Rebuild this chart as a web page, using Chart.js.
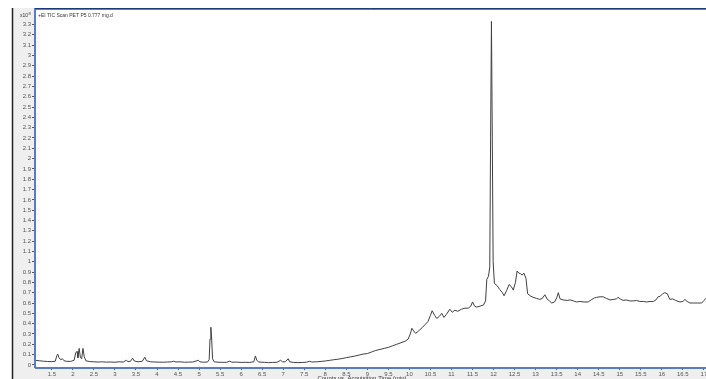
<!DOCTYPE html>
<html>
<head>
<meta charset="utf-8">
<script src="https://cdn.jsdelivr.net/npm/chart.js@4.4.1/dist/chart.umd.min.js"></script>
<style>
  html, body { margin: 0; padding: 0; background: #fff; }
  #wrap { width: 706px; height: 379px; }
</style>
</head>
<body>
<div id="wrap"><canvas id="tic" width="706" height="379"></canvas></div>
<script>
// Retention time (min) of each sampled point of the total ion chromatogram
const TIME_MIN = [
  1.1, 1.2, 1.3, 1.4, 1.5, 1.58, 1.62, 1.64, 1.67, 1.71, 1.75, 1.79, 1.85, 1.95,
  2.03, 2.07, 2.10, 2.12, 2.15, 2.18, 2.21, 2.24, 2.27, 2.31, 2.4, 2.5, 2.6, 2.7,
  2.8, 2.9, 3.0, 3.1, 3.2, 3.27, 3.31, 3.37, 3.42, 3.46, 3.55, 3.65, 3.71, 3.75,
  3.85, 3.95, 4.05, 4.15, 4.25, 4.35, 4.4, 4.45, 4.55, 4.65, 4.75, 4.85, 4.95,
  4.98, 5.02, 5.1, 5.2, 5.24, 5.26, 5.28, 5.30, 5.32, 5.36, 5.45, 5.55, 5.65,
  5.73, 5.78, 5.9, 6.0, 6.1, 6.2, 6.3, 6.34, 6.37, 6.42, 6.55, 6.65, 6.75, 6.85,
  6.94, 6.98, 7.05, 7.12, 7.15, 7.25, 7.35, 7.45, 7.55, 7.63, 7.68, 7.8, 7.9,
  8.0, 8.1, 8.2, 8.3, 8.4, 8.5, 8.6, 8.7, 8.8, 8.9, 9.0, 9.1, 9.2, 9.3, 9.4,
  9.5, 9.6, 9.7, 9.8, 9.9, 9.97, 10.02, 10.06, 10.1, 10.15, 10.22, 10.3, 10.37,
  10.44, 10.5, 10.54, 10.6, 10.65, 10.71, 10.77, 10.82, 10.88, 10.96, 11.02,
  11.08, 11.15, 11.24, 11.32, 11.4, 11.46, 11.5, 11.55, 11.6, 11.68, 11.76,
  11.81, 11.84, 11.88, 11.91, 11.93, 11.95, 11.97, 11.99, 12.02, 12.08, 12.15,
  12.21, 12.25, 12.31, 12.37, 12.42, 12.47, 12.52, 12.56, 12.6, 12.64, 12.68,
  12.72, 12.77, 12.81, 12.87, 12.94, 13.02, 13.1, 13.16, 13.22, 13.27, 13.33,
  13.38, 13.45, 13.5, 13.54, 13.58, 13.65, 13.75, 13.82, 13.9, 13.97, 14.05,
  14.15, 14.25, 14.32, 14.4, 14.45, 14.53, 14.61, 14.68, 14.77, 14.86, 14.92,
  14.96, 15.01, 15.08, 15.15, 15.24, 15.32, 15.4, 15.48, 15.56, 15.64, 15.72,
  15.8, 15.86, 15.91, 15.96, 16.02, 16.07, 16.13, 16.19, 16.26, 16.33, 16.43,
  16.5, 16.55, 16.6, 16.67, 16.75, 16.85, 16.95, 17.0, 17.05
];

// Total ion counts at each time, in units of 10^8
const TIC_E8 = [
  0.045, 0.04, 0.036, 0.033, 0.032, 0.035, 0.09, 0.105, 0.07, 0.05, 0.06, 0.04, 0.035, 0.034,
  0.045, 0.12, 0.13, 0.07, 0.16, 0.07, 0.06, 0.16, 0.08, 0.04, 0.032, 0.03, 0.028, 0.03,
  0.027, 0.028, 0.026, 0.03, 0.028, 0.045, 0.032, 0.035, 0.065, 0.038, 0.03, 0.035, 0.075, 0.04,
  0.03, 0.028, 0.027, 0.026, 0.028, 0.03, 0.036, 0.028, 0.03, 0.026, 0.027, 0.028, 0.04,
  0.046, 0.03, 0.026, 0.028, 0.05, 0.25, 0.365, 0.25, 0.06, 0.03, 0.026, 0.025, 0.025,
  0.036, 0.026, 0.027, 0.024, 0.025, 0.024, 0.03, 0.087, 0.045, 0.028, 0.025, 0.022, 0.024, 0.025,
  0.045, 0.03, 0.03, 0.06, 0.03, 0.024, 0.022, 0.024, 0.026, 0.035, 0.028, 0.03, 0.034,
  0.038, 0.044, 0.05, 0.055, 0.062, 0.07, 0.078, 0.085, 0.095, 0.105, 0.11, 0.125, 0.14, 0.15, 0.16,
  0.17, 0.185, 0.2, 0.215, 0.23, 0.25, 0.3, 0.355, 0.33, 0.305, 0.33, 0.36, 0.39,
  0.42, 0.48, 0.525, 0.48, 0.45, 0.47, 0.5, 0.46, 0.49, 0.54, 0.51,
  0.53, 0.52, 0.54, 0.55, 0.55, 0.57, 0.61, 0.57, 0.56, 0.57, 0.58,
  0.62, 0.83, 0.86, 0.95, 2.2, 3.33, 2.2, 1.0, 0.79, 0.77, 0.73,
  0.7, 0.67, 0.72, 0.78, 0.76, 0.725, 0.8, 0.91, 0.89, 0.885, 0.87,
  0.89, 0.84, 0.69, 0.67, 0.655, 0.645, 0.635, 0.645, 0.68, 0.64, 0.62,
  0.6, 0.61, 0.65, 0.70, 0.64, 0.63, 0.625, 0.63, 0.62, 0.61, 0.615,
  0.61, 0.61, 0.63, 0.65, 0.655, 0.66, 0.66, 0.645, 0.63, 0.635, 0.64,
  0.655, 0.64, 0.625, 0.63, 0.62, 0.62, 0.625, 0.615, 0.615, 0.61, 0.615,
  0.615, 0.63, 0.66, 0.665, 0.69, 0.70, 0.69, 0.635, 0.64, 0.625, 0.61,
  0.615, 0.635, 0.615, 0.6, 0.6, 0.6, 0.6, 0.625, 0.645
];

// Axis tick values
const X_TICKS = [1.5, 2, 2.5, 3, 3.5, 4, 4.5, 5, 5.5, 6, 6.5, 7, 7.5, 8, 8.5, 9, 9.5,
  10, 10.5, 11, 11.5, 12, 12.5, 13, 13.5, 14, 14.5, 15, 15.5, 16, 16.5, 17];
const Y_TICKS = [0, 0.1, 0.2, 0.3, 0.4, 0.5, 0.6, 0.7, 0.8, 0.9, 1, 1.1, 1.2, 1.3, 1.4,
  1.5, 1.6, 1.7, 1.8, 1.9, 2, 2.1, 2.2, 2.3, 2.4, 2.5, 2.6, 2.7, 2.8, 2.9, 3, 3.1, 3.2, 3.3];

const TRACE_LABEL = '+EI TIC Scan PET P5 0.777 mg.d';
const X_TITLE = 'Counts vs. Acquisition Time (min)';

const FONT = 'Liberation Sans, Arial, sans-serif';
const tickFont = { family: FONT, size: 6 };

function fmt(v) {
  return String(Math.round(v * 10) / 10);
}

// Gray instrument panel, plot frame and annotation text
const panel = {
  id: 'panel',
  beforeDraw(chart) {
    const { ctx, chartArea: a, width, height } = chart;
    ctx.save();
    ctx.fillStyle = '#ffffff';
    ctx.fillRect(0, 0, width, height);
    ctx.fillStyle = '#efefef';
    ctx.fillRect(13, 8, width - 13, height - 8);
    ctx.fillStyle = '#ffffff';
    ctx.fillRect(a.left, a.top, a.right - a.left, a.bottom - a.top);
    ctx.strokeStyle = '#222';
    ctx.lineWidth = 1.5;
    ctx.beginPath();
    ctx.moveTo(12.5, 8);
    ctx.lineTo(12.5, height);
    ctx.stroke();
    ctx.restore();
  },
  afterDraw(chart) {
    const { ctx, chartArea: a, width } = chart;
    ctx.save();
    // frame
    ctx.strokeStyle = '#5a7cc0';
    ctx.lineWidth = 2;
    ctx.beginPath();
    ctx.moveTo(a.left, a.bottom);
    ctx.lineTo(a.left, a.top);
    ctx.lineTo(width, a.top);
    ctx.moveTo(a.left, a.bottom);
    ctx.lineTo(width, a.bottom);
    ctx.stroke();
    ctx.strokeStyle = '#1d3a78';
    ctx.lineWidth = 1;
    ctx.beginPath();
    ctx.moveTo(a.left, a.top - 0.5);
    ctx.lineTo(width, a.top - 0.5);
    ctx.stroke();
    // exponent label
    ctx.fillStyle = '#333';
    ctx.textBaseline = 'alphabetic';
    ctx.textAlign = 'left';
    ctx.font = '5px ' + FONT;
    ctx.fillText('x10', 20, 17);
    ctx.font = '4px ' + FONT;
    ctx.fillText('8', 28.5, 14.5);
    // trace label
    ctx.font = '5px ' + FONT;
    ctx.fillText(TRACE_LABEL, a.left + 3, 16.5);
    // x-axis title
    ctx.textAlign = 'center';
    ctx.font = '6px ' + FONT;
    ctx.fillText(X_TITLE, 362, 380);
    ctx.restore();
  }
};

new Chart(document.getElementById('tic'), {
  type: 'line',
  data: {
    datasets: [{
      data: TIME_MIN.map((t, i) => ({ x: t, y: TIC_E8[i] })),
      borderColor: '#404040',
      borderWidth: 1,
      pointRadius: 0,
      tension: 0,
      fill: false
    }]
  },
  options: {
    responsive: false,
    animation: false,
    devicePixelRatio: 1,
    layout: { autoPadding: false, padding: { left: 13, top: 9, right: 0, bottom: 0 } },
    plugins: { legend: { display: false }, tooltip: { enabled: false } },
    scales: {
      x: {
        type: 'linear',
        min: 1.1,
        max: 17.05,
        afterBuildTicks(scale) { scale.ticks = X_TICKS.map(v => ({ value: v })); },
        afterFit(scale) {
          scale.height = 11;
          scale.paddingLeft = 0;
          scale.paddingRight = 0;
        },
        grid: { drawOnChartArea: false, drawTicks: true, tickLength: 2, tickColor: '#555' },
        border: { display: false },
        ticks: {
          autoSkip: false,
          maxRotation: 0,
          padding: 1,
          color: '#555',
          font: tickFont,
          callback: v => fmt(v)
        }
      },
      y: {
        type: 'linear',
        min: -0.03,
        max: 3.45,
        afterBuildTicks(scale) { scale.ticks = Y_TICKS.map(v => ({ value: v })); },
        afterFit(scale) {
          scale.width = 22;
          scale.paddingTop = 0;
          scale.paddingBottom = 0;
        },
        grid: { drawOnChartArea: false, drawTicks: true, tickLength: 3, tickColor: '#555' },
        border: { display: false },
        ticks: {
          autoSkip: false,
          padding: 1,
          color: '#555',
          font: tickFont,
          callback: v => fmt(v)
        }
      }
    }
  },
  plugins: [panel]
});
</script>
</body>
</html>
